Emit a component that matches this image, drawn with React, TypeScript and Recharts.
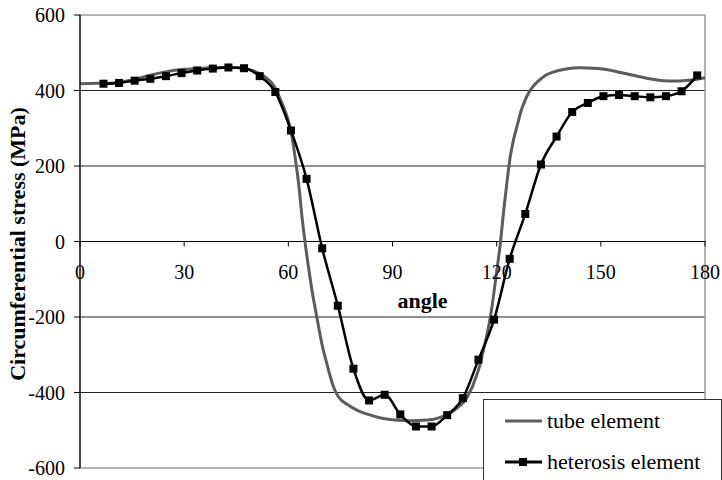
import React from "react";
import {
  LineChart,
  Line,
  XAxis,
  YAxis,
  CartesianGrid,
  ReferenceArea,
  ReferenceLine,
  Legend,
} from "recharts";

const FONT = "Liberation Serif, Tinos, Times New Roman, DejaVu Serif, serif";

// angles / values
const tubeAngles = [
  0, 5, 10, 15, 20, 25, 30, 35, 40, 45, 50, 53, 56, 58, 60, 61, 62, 63, 64, 65, 66, 67, 68, 69, 70,
  71, 72, 73, 74, 75, 77, 80, 83, 86, 90, 95, 100, 104, 107, 109, 111, 112, 113, 114, 115, 116,
  117, 118, 119, 120, 121, 122, 123, 124, 125, 126, 127, 128, 129, 130, 132, 134, 136, 140, 144,
  148, 152, 156, 160, 164, 168, 172, 176, 180,
];
const tubeStress = [
  418, 419, 420, 428, 440, 450, 456, 459, 461, 461, 452, 438, 410, 370, 320, 280, 220, 150, 60, -15,
  -80, -140, -190, -240, -285, -320, -355, -385, -405, -418, -432, -448, -458, -466, -472, -475,
  -473, -465, -452, -438, -420, -403, -385, -360, -333, -295, -255, -210, -150, -80, -10, 80, 160,
  230, 275, 310, 345, 370, 390, 405, 425, 440, 448, 457, 460, 459, 455, 447, 439, 431, 426, 425,
  428, 434,
];

const hetAngles = [
  6.75, 11.25, 15.75, 20.25, 24.75, 29.25, 33.75, 38.25, 42.75, 47.25, 51.75, 56.25, 60.75, 65.25,
  69.75, 74.25, 78.75, 83.25, 87.75, 92.25, 96.75, 101.25, 105.75, 110.25, 114.75, 119.25, 123.75,
  128.25, 132.75, 137.25, 141.75, 146.25, 150.75, 155.25, 159.75, 164.25, 168.75, 173.25, 177.75,
];
const hetStress = [
  418, 420, 426, 431, 438, 446, 453, 458, 461, 459, 438, 396, 294, 166, -18, -170, -337, -421,
  -406, -458, -490, -490, -460, -415, -313, -207, -46, 73, 204, 278, 343, 367, 385, 388, 385, 382,
  385, 398, 440,
];

const xTicks = [0, 30, 60, 90, 120, 150, 180];
const yTicks = [-600, -400, -200, 0, 200, 400, 600];
const legendOrder = ["tube element", "heterosis element"];

const tubeData = tubeAngles.map((a, i) => ({ angle: a, stress: tubeStress[i] }));
const hetData = hetAngles.map((a, i) => ({ angle: a, stress: hetStress[i] }));

const PLOT_TOP = 15;
const PLOT_BOTTOM = 468;
const ZERO_Y = (PLOT_TOP + PLOT_BOTTOM) / 2;

const XTick = (props: any) => {
  const { x, payload } = props;
  return (
    <g>
      <line x1={x} x2={x} y1={ZERO_Y} y2={ZERO_Y + 5} stroke="#000" />
      <text x={x} y={ZERO_Y + 37} textAnchor="middle" fontSize={20} fontFamily={FONT} fill="#000">
        {payload.value}
      </text>
    </g>
  );
};

const SquareDot = (props: any) => {
  const { cx, cy, index } = props;
  return <rect key={index} x={cx - 4} y={cy - 4} width={8} height={8} fill="#000" />;
};

const LegendBox = (props: any) => {
  const items = [...(props.payload || [])].sort(
    (a: any, b: any) => legendOrder.indexOf(a.value) - legendOrder.indexOf(b.value)
  );
  return (
    <div
      style={{
        width: 239,
        height: 81,
        boxSizing: "border-box",
        border: "1px solid #333",
        borderBottom: "none",
        background: "#fff",
        fontFamily: FONT,
        fontSize: 22,
        color: "#000",
      }}
    >
      {items.map((p: any) => (
        <div key={p.value} style={{ display: "flex", alignItems: "center", height: 41 }}>
          <svg width={37} height={10} style={{ marginLeft: 21, marginRight: 5 }}>
            <line x1={0} x2={37} y1={5} y2={5} stroke={p.color} strokeWidth={3} />
            {p.value === "heterosis element" && <rect x={14} y={1} width={8} height={8} fill="#000" />}
          </svg>
          <span style={{ lineHeight: 1 }}>{p.value}</span>
        </div>
      ))}
    </div>
  );
};

export default function App() {
  return (
    <div
      style={{
        position: "absolute",
        left: 0,
        top: 0,
        width: 722,
        height: 480,
        background: "#fff",
        fontFamily: FONT,
      }}
    >
      <LineChart width={722} height={480} margin={{ top: 15, right: 17, bottom: 0, left: 0 }}>
        <CartesianGrid vertical={false} horizontalValues={[-400, -200, 200, 400]} stroke="#222" />
        <ReferenceArea x1={0} x2={180} y1={-600} y2={600} fill="none" stroke="#9a9a9a" strokeWidth={1.5} />
        <ReferenceLine y={0} stroke="#000" strokeWidth={1.2} />
        <XAxis
          dataKey="angle"
          type="number"
          domain={[0, 180]}
          ticks={xTicks}
          interval={0}
          height={12}
          axisLine={false}
          tickLine={false}
          tick={<XTick />}
          label={{
            content: (p: any) => (
              <text
                x={(p.viewBox?.x ?? 80) + (p.viewBox?.width ?? 625) / 2 + 30}
                y={ZERO_Y + 66}
                textAnchor="middle"
                fontSize={22}
                fontWeight="bold"
                fontFamily={FONT}
                fill="#000"
              >
                angle
              </text>
            ),
          }}
        />
        <YAxis
          type="number"
          domain={[-600, 600]}
          ticks={yTicks}
          width={80}
          axisLine={{ stroke: "#000", strokeWidth: 1.2 }}
          tickLine={{ stroke: "#000" }}
          tickSize={6}
          tickMargin={9}
          tick={{ fontSize: 20, fill: "#000", fontFamily: FONT }}
          label={{
            content: () => (
              <text
                x={25}
                y={244}
                transform="rotate(-90, 25, 244)"
                textAnchor="middle"
                fontSize={22}
                fontWeight="bold"
                fontFamily={FONT}
                fill="#000"
              >
                Circumferential stress (MPa)
              </text>
            ),
          }}
        />
        <Line
          data={tubeData}
          dataKey="stress"
          name="tube element"
          type="monotone"
          stroke="#5c5c5c"
          strokeWidth={3}
          dot={false}
          isAnimationActive={false}
        />
        <Line
          data={hetData}
          dataKey="stress"
          name="heterosis element"
          type="monotone"
          stroke="#000"
          strokeWidth={2.5}
          dot={<SquareDot />}
          isAnimationActive={false}
        />
        <Legend
          layout="vertical"
          align="center"
          verticalAlign="middle"
          content={<LegendBox />}
          wrapperStyle={{ left: 483, top: 399, width: 239, height: 81 }}
        />
      </LineChart>
    </div>
  );
}
